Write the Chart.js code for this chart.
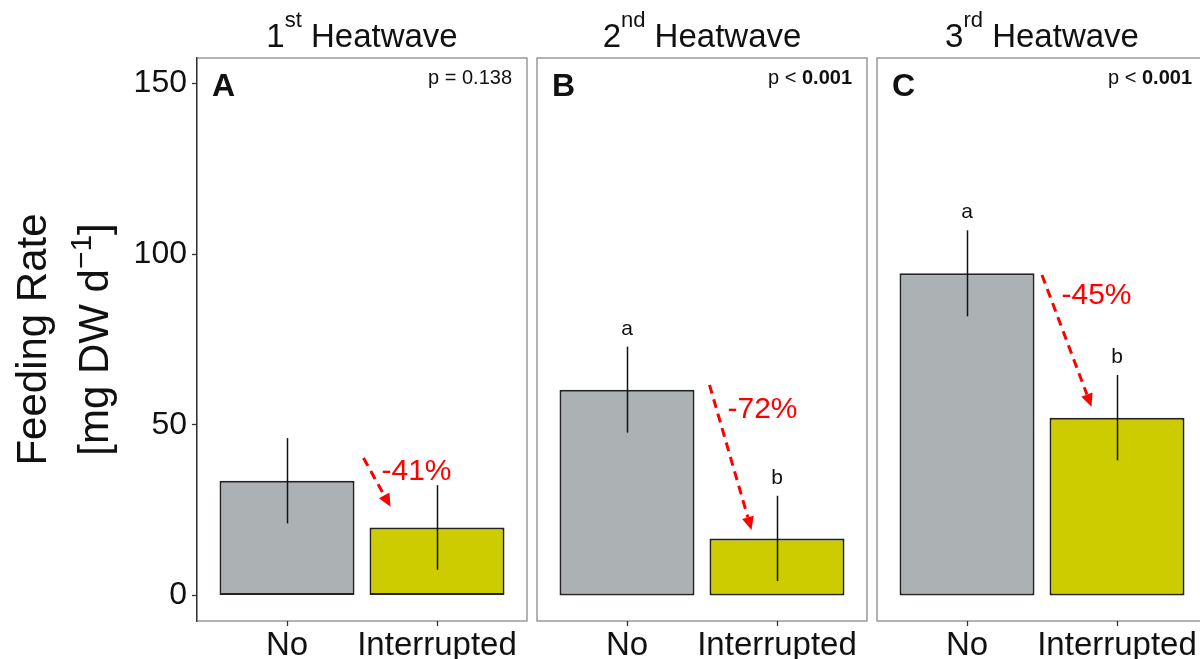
<!DOCTYPE html>
<html>
<head>
<meta charset="utf-8">
<title>Feeding rate under heatwaves</title>
<script src="https://cdn.jsdelivr.net/npm/chart.js@4.4.1/dist/chart.umd.min.js"></script>
<style>
  html, body { margin: 0; padding: 0; background: #fff; overflow: hidden; }
  #wrap { position: relative; width: 1200px; height: 659px; overflow: hidden; }
  #wrap canvas { position: absolute; top: 0; }
</style>
</head>
<body>
<div id="wrap">
  <canvas id="panel-0" width="540" height="659" style="left:0"></canvas>
  <canvas id="panel-1" width="345" height="659" style="left:530px"></canvas>
  <canvas id="panel-2" width="345" height="659" style="left:870px"></canvas>
</div>
<script>
'use strict';

// Mean feeding rate (mg DW per day) with standard errors
const heatwaveNumbers = ['1', '2', '3'];
const ordinalSuffix = ['st', 'nd', 'rd'];
const panelLetters = ['A', 'B', 'C'];
const treatments = ['No', 'Interrupted'];
const feedingNo = [33.6, 60.3, 94.4];
const feedingInterrupted = [19.9, 16.7, 52.1];
const errNo = [12.5, 12.6, 12.6];
const errInterrupted = [12.4, 12.5, 12.5];
const pRelation = ['=', '<', '<'];
const pValue = ['0.138', '0.001', '0.001'];
const pBold = [false, true, true];
const groupLetters = [['', ''], ['a', 'b'], ['a', 'b']];
const yTicks = [0, 50, 100, 150];

// Change arrows, in axis units [x, y]
const arrowFrom = [[1.51, 40.3], [1.55, 61.7], [1.50, 93.9]];
const arrowTo = [[1.69, 26.0], [1.83, 19.2], [1.83, 55.3]];
const changeLabelAt = [[1.63, 36.2], [1.67, 54.4], [1.63, 87.7]];

const FONT = '"Liberation Sans", Arial, Helvetica, sans-serif';
const GREY_BAR = '#acb2b4';
const YELLOW_BAR = '#cccc00';
const RED = '#ff0000';

function font(size, weight) {
    return (weight || 'normal') + ' ' + size + 'px ' + FONT;
}

// Draw a run of text pieces (each with its own font and vertical shift)
function drawRuns(ctx, runs, x, y, align) {
    ctx.save();
    ctx.textAlign = 'left';
    ctx.textBaseline = 'alphabetic';
    let total = 0;
    runs.forEach(r => { ctx.font = r.font; total += ctx.measureText(r.text).width; });
    let cx = align === 'center' ? x - total / 2 : (align === 'right' ? x - total : x);
    runs.forEach(r => {
        ctx.font = r.font;
        ctx.fillText(r.text, cx, y - (r.dy || 0));
        cx += ctx.measureText(r.text).width;
    });
    ctx.restore();
}

function drawArrow(ctx, x0, y0, x1, y1) {
    const ang = Math.atan2(y1 - y0, x1 - x0);
    const head = 13, half = 6;
    const bx = x1 - head * Math.cos(ang);
    const by = y1 - head * Math.sin(ang);
    ctx.save();
    ctx.strokeStyle = RED;
    ctx.fillStyle = RED;
    ctx.lineWidth = 3;
    ctx.setLineDash([9, 6]);
    ctx.beginPath();
    ctx.moveTo(x0, y0);
    ctx.lineTo(bx, by);
    ctx.stroke();
    ctx.setLineDash([]);
    ctx.beginPath();
    ctx.moveTo(x1, y1);
    ctx.lineTo(bx + half * Math.sin(ang), by - half * Math.cos(ang));
    ctx.lineTo(bx - half * Math.sin(ang), by + half * Math.cos(ang));
    ctx.closePath();
    ctx.fill();
    ctx.restore();
}

// Panel frame, drawn before the scales so the y axis line sits on top
const framePlugin = {
    id: 'frame',
    beforeDraw(chart) {
        const a = chart.chartArea;
        const ctx = chart.ctx;
        ctx.save();
        ctx.strokeStyle = '#8a8a8a';
        ctx.lineWidth = 1.3;
        ctx.strokeRect(a.left, a.top, a.right - a.left, a.bottom - a.top);
        ctx.restore();
    }
};

// Error bars, letters, p values, titles and change arrows
const annotatePlugin = {
    id: 'annotate',
    afterDatasetsDraw(chart) {
        const i = chart.options.plugins.annotate.panel;
        const ctx = chart.ctx;
        const x = chart.scales.x, y = chart.scales.y;
        const means = [feedingNo[i], feedingInterrupted[i]];
        const errs = [errNo[i], errInterrupted[i]];

        // error bars
        ctx.save();
        ctx.strokeStyle = '#111';
        ctx.lineWidth = 1.5;
        means.forEach((m, k) => {
            const px = Math.round(x.getPixelForValue(k + 1)) + 0.5;
            ctx.beginPath();
            ctx.moveTo(px, y.getPixelForValue(m + errs[k]));
            ctx.lineTo(px, y.getPixelForValue(m - errs[k]));
            ctx.stroke();
        });
        ctx.restore();

        // group letters above error bars
        ctx.save();
        ctx.fillStyle = '#111';
        ctx.font = font(21);
        ctx.textAlign = 'center';
        ctx.textBaseline = 'alphabetic';
        means.forEach((m, k) => {
            const t = groupLetters[i][k];
            if (t) ctx.fillText(t, x.getPixelForValue(k + 1), y.getPixelForValue(m + errs[k]) - 12);
        });
        ctx.restore();

        // relative change arrow and label
        drawArrow(ctx,
            x.getPixelForValue(arrowFrom[i][0]), y.getPixelForValue(arrowFrom[i][1]),
            x.getPixelForValue(arrowTo[i][0]), y.getPixelForValue(arrowTo[i][1]));
        const pct = Math.round((feedingInterrupted[i] / feedingNo[i] - 1) * 100);
        ctx.save();
        ctx.fillStyle = RED;
        ctx.font = font(30);
        ctx.textAlign = 'left';
        ctx.textBaseline = 'middle';
        ctx.fillText(pct + '%', x.getPixelForValue(changeLabelAt[i][0]), y.getPixelForValue(changeLabelAt[i][1]));
        ctx.restore();
    },
    afterDraw(chart) {
        const i = chart.options.plugins.annotate.panel;
        const ctx = chart.ctx;
        const a = chart.chartArea;
        ctx.fillStyle = '#111';

        // panel letter
        drawRuns(ctx, [{ text: panelLetters[i], font: font(32, 'bold') }], a.left + 15, 96, 'left');

        // p value, top right
        drawRuns(ctx, [
            { text: 'p ' + pRelation[i] + ' ', font: font(20) },
            { text: pValue[i], font: font(20, pBold[i] ? 'bold' : 'normal') }
        ], a.right - 15, 84, 'right');

        // strip title above the panel
        drawRuns(ctx, [
            { text: heatwaveNumbers[i], font: font(33) },
            { text: ordinalSuffix[i], font: font(22), dy: 20 },
            { text: ' Heatwave', font: font(33) }
        ], (a.left + a.right) / 2, 47, 'center');

        // y axis title on the first panel only
        if (i === 0) {
            ctx.save();
            ctx.translate(46, (a.top + a.bottom) / 2);
            ctx.rotate(-Math.PI / 2);
            drawRuns(ctx, [{ text: 'Feeding Rate', font: font(42) }], 0, 0, 'center');
            ctx.restore();
            ctx.save();
            ctx.translate(108, (a.top + a.bottom) / 2);
            ctx.rotate(-Math.PI / 2);
            drawRuns(ctx, [
                { text: '[mg DW d', font: font(42) },
                { text: '\u22121', font: font(30), dy: 17 },
                { text: ']', font: font(42) }
            ], 0, 0, 'center');
            ctx.restore();
        }
    }
};

function createPanel(i) {
    const ctx = document.getElementById('panel-' + i);
    const first = i === 0;

    return new Chart(ctx, {
        type: 'bar',
        data: {
            datasets: [{
                data: [
                    { x: 1, y: feedingNo[i] },
                    { x: 2, y: feedingInterrupted[i] }
                ],
                backgroundColor: [GREY_BAR, YELLOW_BAR],
                borderColor: '#222',
                borderWidth: 2,
                borderSkipped: false,
                barPercentage: 0.9,
                categoryPercentage: 1.0
            }]
        },
        options: {
            responsive: false,
            animation: false,
            devicePixelRatio: 1,
            layout: {
                padding: first ? { left: 0, right: 13, top: 58, bottom: 0 }
                               : { left: 7, right: 8, top: 58, bottom: 0 }
            },
            plugins: {
                legend: { display: false },
                tooltip: { enabled: false },
                annotate: { panel: i }
            },
            scales: {
                x: {
                    type: 'linear',
                    offset: false,
                    min: 0.4,
                    max: 2.6,
                    afterBuildTicks: function(scale) {
                        scale.ticks = treatments.map((t, k) => ({ value: k + 1 }));
                    },
                    afterFit: function(scale) {
                        scale.height = 38;
                    },
                    grid: {
                        offset: false,
                        drawOnChartArea: false,
                        drawTicks: true,
                        tickLength: 5,
                        tickColor: '#333',
                        tickWidth: 1.3
                    },
                    border: { display: false },
                    ticks: {
                        autoSkip: false,
                        maxRotation: 0,
                        minRotation: 0,
                        padding: 0,
                        color: '#111',
                        font: { family: FONT, size: 33 },
                        callback: function(value) {
                            return treatments[value - 1];
                        }
                    }
                },
                y: {
                    display: first,
                    min: -7.5,
                    max: 157.5,
                    afterBuildTicks: function(scale) {
                        scale.ticks = yTicks.map(v => ({ value: v }));
                    },
                    afterFit: function(scale) {
                        // only the first panel carries a visible y axis
                        scale.width = first ? 197 : 0;
                    },
                    grid: {
                        drawOnChartArea: false,
                        drawTicks: true,
                        tickLength: 5,
                        tickColor: '#333',
                        tickWidth: 1.3
                    },
                    border: { display: true, color: '#333', width: 1.3 },
                    ticks: {
                        padding: 5,
                        color: '#111',
                        font: { family: FONT, size: 32 }
                    }
                }
            }
        },
        plugins: [framePlugin, annotatePlugin]
    });
}

[0, 1, 2].forEach(createPanel);
</script>
</body>
</html>
